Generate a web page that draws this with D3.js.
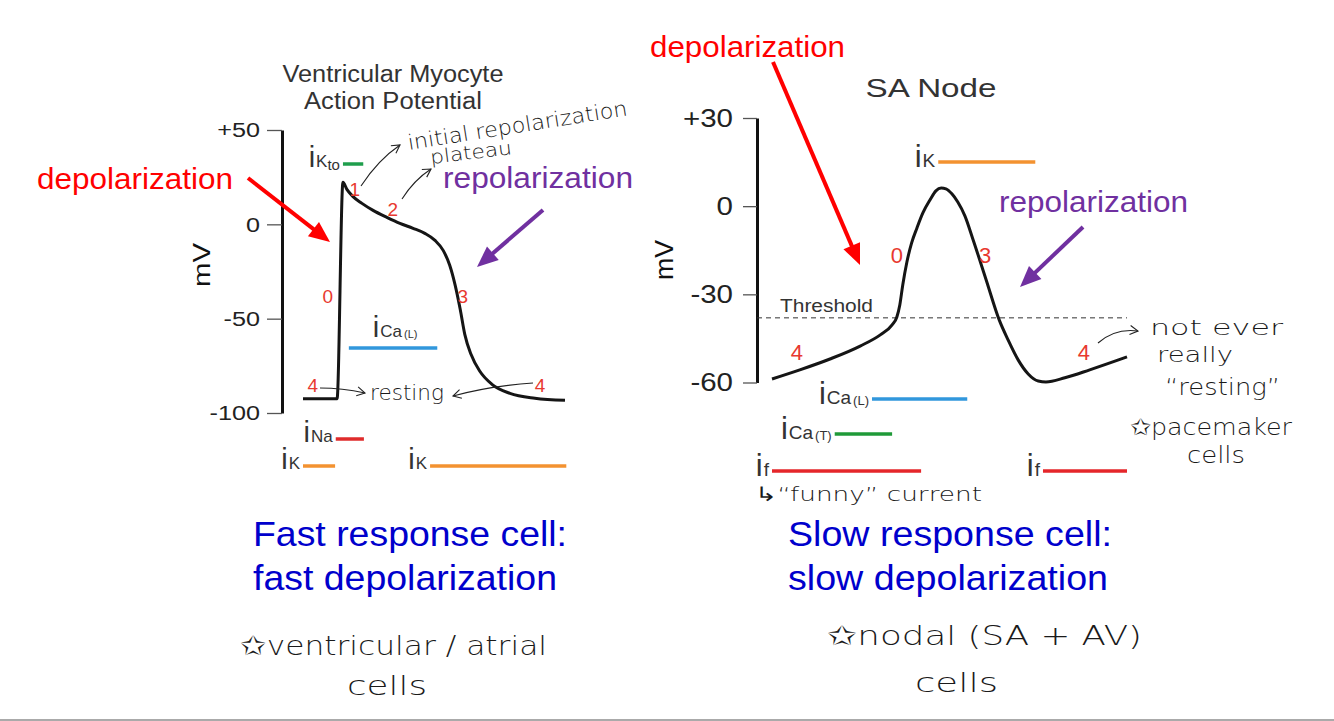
<!DOCTYPE html>
<html>
<head>
<meta charset="utf-8">
<script src="https://cdn.jsdelivr.net/npm/d3@7"></script>
<style>
    body { margin: 0; background: #fff; }
    svg { display: block; }
</style>
</head>
<body>
<svg id="chart" width="1334" height="721"></svg>
<script>
// ventricular myocyte action potential: time (ms) and membrane potential (mV)
const ventTime = [0, 52, 61, 67, 76, 90, 107, 128, 148, 168, 186, 201.5, 214, 224, 232, 240, 247, 256.5, 270, 288.5, 316, 354, 400];
const ventMv = [-92.5, -92.5, 22.3, 18.5, 14.8, 11.1, 7.4, 3.7, 0.5, -2.1, -4.8, -8.5, -13.8, -21.7, -31.8, -45, -58.3, -68.9, -77.9, -84.8, -89.6, -92.2, -93.3];
const ventTicks = [50, 0, -50, -100];
const ventTickLabels = ['+50', '0', '-50', '-100'];
const ventPhase = ['0', '1', '2', '3', '4', '4'];
const ventPhaseT = [38, 79, 137, 244, 15, 362];
const ventPhaseV = [-38, 18.5, 8, -38, -85, -85];
// currents active during the ventricular AP
const ventCurMain = ['K', 'Ca', 'Na', 'K', 'K'];
const ventCurMinor = ['to', '(L)', '', '', ''];
const ventCurStart = [61, 70, 50, 0, 194];
const ventCurEnd = [92, 205, 93, 49, 402];

// SA node action potential
const saTime = [0, 47, 98, 149, 183, 203, 211, 216, 221, 228, 236, 245, 255, 267, 277, 286, 294, 304, 314, 326, 340, 362, 384, 399, 416, 433, 450, 463, 495, 537, 600];
const saMv = [-58.8, -55.7, -52, -47.6, -43.8, -40.4, -37.7, -33.6, -26.8, -19, -12.5, -7.4, -2.3, 2.1, 5.2, 6.2, 5.9, 4.2, 1.4, -3.3, -11.5, -25.1, -38.7, -45.5, -52.3, -57.1, -59.5, -59.8, -58.4, -55.7, -51.3];
const saTicks = [30, 0, -30, -60];
const saTickLabels = ['+30', '0', '-30', '-60'];
const saThreshold = -38;
const saPhase = ['0', '3', '4', '4'];
const saPhaseT = [211, 360, 42, 527];
const saPhaseV = [-16.7, -16.7, -49.8, -49.8];
const saCurMain = ['K', 'Ca', 'Ca', 'f', 'f'];
const saCurMinor = ['', '(L)', '(T)', '', ''];
const saCurStart = [281, 169, 106, 0, 458];
const saCurEnd = [445, 330, 203, 252, 600];

const sans = '"Liberation Sans", Arial, Helvetica, sans-serif';
const handFont = '"DejaVu Sans", sans-serif';
const ionColor = {
    'K': '#f39230', 'Kto': '#1f9e4c', 'Ca(L)': '#3197dc', 'Ca(T)': '#1f9a38',
    'Na': '#df2b2b', 'f': '#e5262a'
};
const phaseRed = '#e8392f';
const purple = '#7030a0';

const svg = d3.select('#chart');

function label(g, x, y, s, size, color, len, anchor) {
    let t = g.append('text')
        .attr('x', x).attr('y', y)
        .attr('font-family', sans)
        .attr('font-size', size)
        .attr('fill', color)
        .attr('text-anchor', anchor || 'start')
        .text(s);
    if (len) t.attr('textLength', len).attr('lengthAdjust', 'spacingAndGlyphs');
    return t;
}

function hand(g, x, y, s, size, len, angle) {
    let t = g.append('text')
        .attr('x', x).attr('y', y)
        .attr('font-family', handFont)
        .attr('font-weight', 200)
        .attr('font-size', size)
        .attr('fill', '#1a1a1a')
        .attr('textLength', len)
        .attr('lengthAdjust', 'spacingAndGlyphs')
        .text(s);
    if (angle) t.attr('transform', 'rotate(' + angle + ',' + x + ',' + y + ')');
}

function arrowHead(g, x1, y1, x2, y2, len, half, color, width, filled) {
    let a = Math.atan2(y2 - y1, x2 - x1);
    let bx = x2 - len * Math.cos(a), by = y2 - len * Math.sin(a);
    let px = -Math.sin(a) * half, py = Math.cos(a) * half;
    let p = d3.path();
    p.moveTo(bx + px, by + py);
    p.lineTo(x2, y2);
    p.lineTo(bx - px, by - py);
    if (filled) p.closePath();
    g.append('path')
        .attr('d', p.toString())
        .attr('fill', filled ? color : 'none')
        .attr('stroke', filled ? 'none' : color)
        .attr('stroke-width', width);
}

function bigArrow(g, x1, y1, x2, y2, color) {
    let a = Math.atan2(y2 - y1, x2 - x1);
    g.append('line')
        .attr('x1', x1).attr('y1', y1)
        .attr('x2', x2 - 14 * Math.cos(a)).attr('y2', y2 - 14 * Math.sin(a))
        .attr('stroke', color).attr('stroke-width', 4);
    arrowHead(g, x1, y1, x2, y2, 21, 9, color, 0, true);
}

function handArrow(g, x1, y1, cx, cy, x2, y2) {
    let p = d3.path();
    p.moveTo(x1, y1);
    p.quadraticCurveTo(cx, cy, x2, y2);
    g.append('path').attr('d', p.toString())
        .attr('fill', 'none').attr('stroke', '#222').attr('stroke-width', 1.1);
    arrowHead(g, cx, cy, x2, y2, 8, 4.5, '#222', 1.1, false);
}

function drawAxis(g, y, x0, ticks, labels, size, sx, tickLen, pad) {
    let axis = d3.axisLeft(y)
        .tickValues(ticks)
        .tickFormat((d, i) => labels[i])
        .tickSize(tickLen)
        .tickSizeOuter(0)
        .tickPadding(pad);
    let a = g.append('g').attr('transform', 'translate(' + x0 + ',0)').call(axis);
    a.select('.domain').attr('stroke', '#111').attr('stroke-width', 3);
    a.selectAll('.tick line').attr('stroke', '#555').attr('stroke-width', 1.3);
    a.selectAll('.tick text')
        .attr('font-family', sans)
        .attr('font-size', size)
        .attr('fill', '#222')
        .attr('x', -(tickLen + pad) / sx)
        .attr('transform', 'scale(' + sx + ',1)');
}

function drawCurrents(g, x, rows, main, minor, start, end, cfg) {
    main.forEach((m, i) => {
        let key = m + minor[i];
        let color = ionColor[key] || ionColor[m];
        let yy = rows[key] !== undefined ? rows[key] : rows[m];
        g.append('line')
            .attr('x1', x(start[i])).attr('x2', x(end[i]))
            .attr('y1', yy).attr('y2', yy)
            .attr('stroke', color).attr('stroke-width', 3.5);
        let above = cfg.above && cfg.above === key;
        let t = g.append('text')
            .attr('font-family', sans)
            .attr('fill', '#333')
            .attr('y', above ? yy - 11 : yy + cfg.dy);
        if (above) t.attr('x', x(start[i]) + 24);
        else t.attr('x', x(start[i]) - 3).attr('text-anchor', 'end');
        t.append('tspan').attr('font-size', cfg.iSize).text('i');
        t.append('tspan').attr('font-size', cfg.subSize).attr('dx', 1).text(m);
        if (minor[i]) {
            t.append('tspan')
                .attr('font-size', minor[i] === 'to' ? cfg.subSize - 2 : cfg.minorSize)
                .attr('dx', minor[i] === 'to' ? 0 : 2)
                .attr('dy', minor[i] === 'to' ? 3 : 1)
                .text(minor[i]);
        }
    });
}

function drawPhases(g, x, y, names, t, v, size) {
    names.forEach((n, i) => {
        g.append('text')
            .attr('x', x(t[i])).attr('y', y(v[i]))
            .attr('dy', '0.36em')
            .attr('text-anchor', 'middle')
            .attr('font-family', sans)
            .attr('font-size', size)
            .attr('fill', phaseRed)
            .text(n);
    });
}

// ---------------- ventricular myocyte ----------------
let left = svg.append('g');
let xV = d3.scaleLinear().domain([0, 400]).range([303, 565]);
let yV = d3.scaleLinear().domain([-100, 50]).range([413, 130]);

label(left, 393, 82, 'Ventricular Myocyte', 23, '#333', 221, 'middle');
label(left, 393, 109, 'Action Potential', 23, '#333', 178, 'middle');
drawAxis(left, yV, 282, ventTicks, ventTickLabels, 21, 1.2, 15, 7);
label(left, 210, 265, 'mV', 24, '#111', 44, 'middle').attr('transform', 'rotate(-90,210,265)');

left.append('path')
    .datum(d3.zip(ventTime, ventMv))
    .attr('d', d3.line().x(d => xV(d[0])).y(d => yV(d[1])).curve(d3.curveMonotoneX))
    .attr('fill', 'none').attr('stroke', '#151515').attr('stroke-width', 3);

drawPhases(left, xV, yV, ventPhase, ventPhaseT, ventPhaseV, 19);
drawCurrents(left, xV, { 'Kto': 164, 'Ca(L)': 348, 'Na': 439, 'K': 466 },
    ventCurMain, ventCurMinor, ventCurStart, ventCurEnd,
    { iSize: 29, subSize: 17, minorSize: 11, dy: 3, above: 'Ca(L)' });

label(left, 37, 189, 'depolarization', 30, '#ff0000', 196);
bigArrow(left, 248, 178, 330, 242, '#ff0000');
label(left, 443, 188, 'repolarization', 29, purple, 190);
bigArrow(left, 543, 210, 477, 267, purple);

// handwritten notes on the left
hand(left, 409, 150, 'initial repolarization', 21, 222, -9);
hand(left, 431, 164, 'plateau', 19, 82, -7);
handArrow(left, 361, 186, 378, 160, 400, 145);
handArrow(left, 402, 199, 414, 180, 431, 169);
hand(left, 370, 400, 'resting', 22, 74);
handArrow(left, 320, 388, 342, 388, 365, 393);
handArrow(left, 533, 383, 490, 386, 453, 396);

label(left, 253, 546, 'Fast response cell:', 35, '#0000cc', 314);
label(left, 253, 590, 'fast depolarization', 35, '#0000cc', 304);
hand(left, 240, 655, '\u2729ventricular / atrial', 27, 307);
hand(left, 347, 695, 'cells', 27, 80);

// ---------------- SA node ----------------
let right = svg.append('g');
let xS = d3.scaleLinear().domain([0, 600]).range([772, 1127]);
let yS = d3.scaleLinear().domain([-60, 30]).range([382.5, 118]);

label(right, 931, 97, 'SA Node', 26, '#333', 131, 'middle');
drawAxis(right, yS, 757, saTicks, saTickLabels, 25, 1.18, 14, 10);
label(right, 673, 260, 'mV', 26, '#111', 40, 'middle').attr('transform', 'rotate(-90,673,260)');

right.append('line')
    .attr('x1', 757).attr('x2', xS(600))
    .attr('y1', yS(saThreshold)).attr('y2', yS(saThreshold))
    .attr('stroke', '#333').attr('stroke-width', 1).attr('stroke-dasharray', '5,4');
label(right, 780, 312, 'Threshold', 18, '#333', 93);

right.append('path')
    .datum(d3.zip(saTime, saMv))
    .attr('d', d3.line().x(d => xS(d[0])).y(d => yS(d[1])).curve(d3.curveMonotoneX))
    .attr('fill', 'none').attr('stroke', '#151515').attr('stroke-width', 3);

drawPhases(right, xS, yS, saPhase, saPhaseT, saPhaseV, 22);
drawCurrents(right, xS, { 'K': 162, 'Ca(L)': 399, 'Ca(T)': 434, 'f': 471 },
    saCurMain, saCurMinor, saCurStart, saCurEnd,
    { iSize: 31, subSize: 19, minorSize: 13, dy: 5 });

label(right, 650, 57, 'depolarization', 30, '#ff0000', 195);
bigArrow(right, 773, 62, 860, 265, '#ff0000');
label(right, 999, 212, 'repolarization', 29, purple, 189);
bigArrow(right, 1083, 227, 1020, 287, purple);

// handwritten notes on the right
handArrow(right, 1098, 343, 1115, 328, 1138, 331);
hand(right, 1150, 335, 'not ever', 22, 133);
hand(right, 1157, 362, 'really', 22, 76);
hand(right, 1165, 395, '\u201cresting\u201d', 23, 115);
hand(right, 1130, 435, '\u2729pacemaker', 23, 162);
hand(right, 1187, 463, 'cells', 23, 58);
hand(right, 755, 501, '\u21b3\u201cfunny\u201d current', 20, 227);

label(right, 788, 546, 'Slow response cell:', 35, '#0000cc', 324);
label(right, 788, 590, 'slow depolarization', 35, '#0000cc', 320);
hand(right, 827, 645, '\u2729nodal (SA + AV)', 27, 315);
hand(right, 915, 692, 'cells', 27, 83);

// slide bottom edge
svg.append('line')
    .attr('x1', 0).attr('x2', 1334).attr('y1', 720).attr('y2', 720)
    .attr('stroke', '#aaa').attr('stroke-width', 2);
</script>
</body>
</html>
